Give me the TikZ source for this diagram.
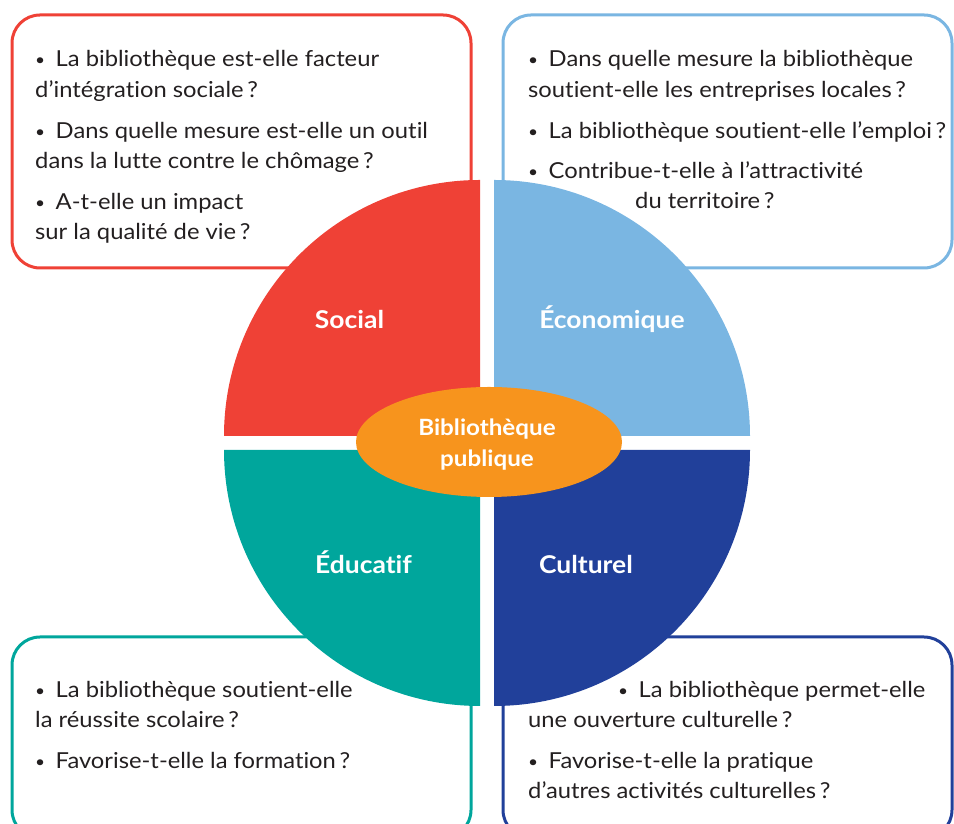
\documentclass[tikz,border=0pt]{standalone}
\usepackage{fontspec}
\setmainfont{Lato}[Ligatures=CommonOff, FakeStretch=1.08]
\usetikzlibrary{shapes.geometric}
\definecolor{cred}{RGB}{239,65,54}
\definecolor{clblue}{RGB}{122,182,226}
\definecolor{cteal}{RGB}{0,166,156}
\definecolor{cdblue}{RGB}{33,64,154}
\definecolor{corange}{RGB}{247,148,29}
\definecolor{ctext}{RGB}{35,31,32}
\newcommand\bul{{\fontsize{16}{16}\selectfont\raisebox{1.5pt}{•}}\hspace{10.5pt}}
\begin{document}
\begin{tikzpicture}[x=1pt,y=1pt,
  qbox/.style={line width=3pt, rounded corners=28pt},
  txt/.style={anchor=base west, inner sep=0pt, text=ctext, font=\fontsize{22}{26}\selectfont},
  lab/.style={anchor=base, inner sep=0pt, text=white, font=\bfseries\fontsize{24.5}{28}\selectfont},
  ctr/.style={anchor=base, inner sep=0pt, text=white, font=\bfseries\fontsize{22.4}{28}\selectfont}]
\useasboundingbox (0,0) rectangle (954,824);
% boxes
\draw[qbox, cred]   (12,556) rectangle (471,809);
\draw[qbox, clblue] (503,556) rectangle (952,809);
\draw[qbox, cteal]  (12,-14) rectangle (471,187);
\draw[qbox, cdblue] (503,-14) rectangle (952,187);
% quadrants
\fill[cred]   (480,388) -- (224,388) arc[start angle=180, end angle=90, radius=256pt] -- cycle;
\fill[clblue] (494,388) -- (494,644) arc[start angle=90, end angle=0, radius=256pt] -- cycle;
\fill[cteal]  (480,374) -- (224,374) arc[start angle=180, end angle=270, radius=256pt] -- cycle;
\fill[cdblue] (494,374) -- (750,374) arc[start angle=0, end angle=-90, radius=256pt] -- cycle;
% centre
\node[ellipse, fill=corange, minimum width=266pt, minimum height=110pt, inner sep=0pt] (bib) at (489,382) {};
\node[ctr] (bib1) at (487,388) {Bibliothèque};
\node[ctr] (bib2) at (487,357) {publique};
% labels
\node[lab] (social) at (349.5,495) {Social};
\node[lab] (eco) at (612,495) {Économique};
\node[lab] (edu) at (363.5,250) {Éducatif};
\node[lab] (cul) at (586,250) {Culturel};
% top-left text
\node[txt] (s1) at (35,757) {\bul La bibliothèque est-elle facteur};
\node[txt] (s2) at (35,726) {d’intégration sociale\,?};
\node[txt] (s3) at (35,685) {\bul Dans quelle mesure est-elle un outil};
\node[txt] (s4) at (35,655) {dans la lutte contre le chômage\,?};
\node[txt] (s5) at (35,614) {\bul A-t-elle un impact};
\node[txt] (s6) at (35,584) {sur la qualité de vie\,?};
% top-right text
\node[txt] (e1) at (528,757) {\bul Dans quelle mesure la bibliothèque};
\node[txt] (e2) at (528,726) {soutient-elle les entreprises locales\,?};
\node[txt] (e3) at (528,685) {\bul La bibliothèque soutient-elle l’emploi\,?};
\node[txt] (e4) at (528,645) {\bul Contribue-t-elle à l’attractivité};
\node[txt] (e5) at (635,615) {du territoire\,?};
% bottom-left text
\node[txt] (d1) at (35,126) {\bul La bibliothèque soutient-elle};
\node[txt] (d2) at (35,96) {la réussite scolaire\,?};
\node[txt] (d3) at (35,55) {\bul Favorise-t-elle la formation\,?};
% bottom-right text
\node[txt] (c1) at (618,126) {\bul La bibliothèque permet-elle};
\node[txt] (c2) at (528,96) {une ouverture culturelle\,?};
\node[txt] (c3) at (528,55) {\bul Favorise-t-elle la pratique};
\node[txt] (c4) at (528,25) {d’autres activités culturelles\,?};
\end{tikzpicture}
\end{document}
